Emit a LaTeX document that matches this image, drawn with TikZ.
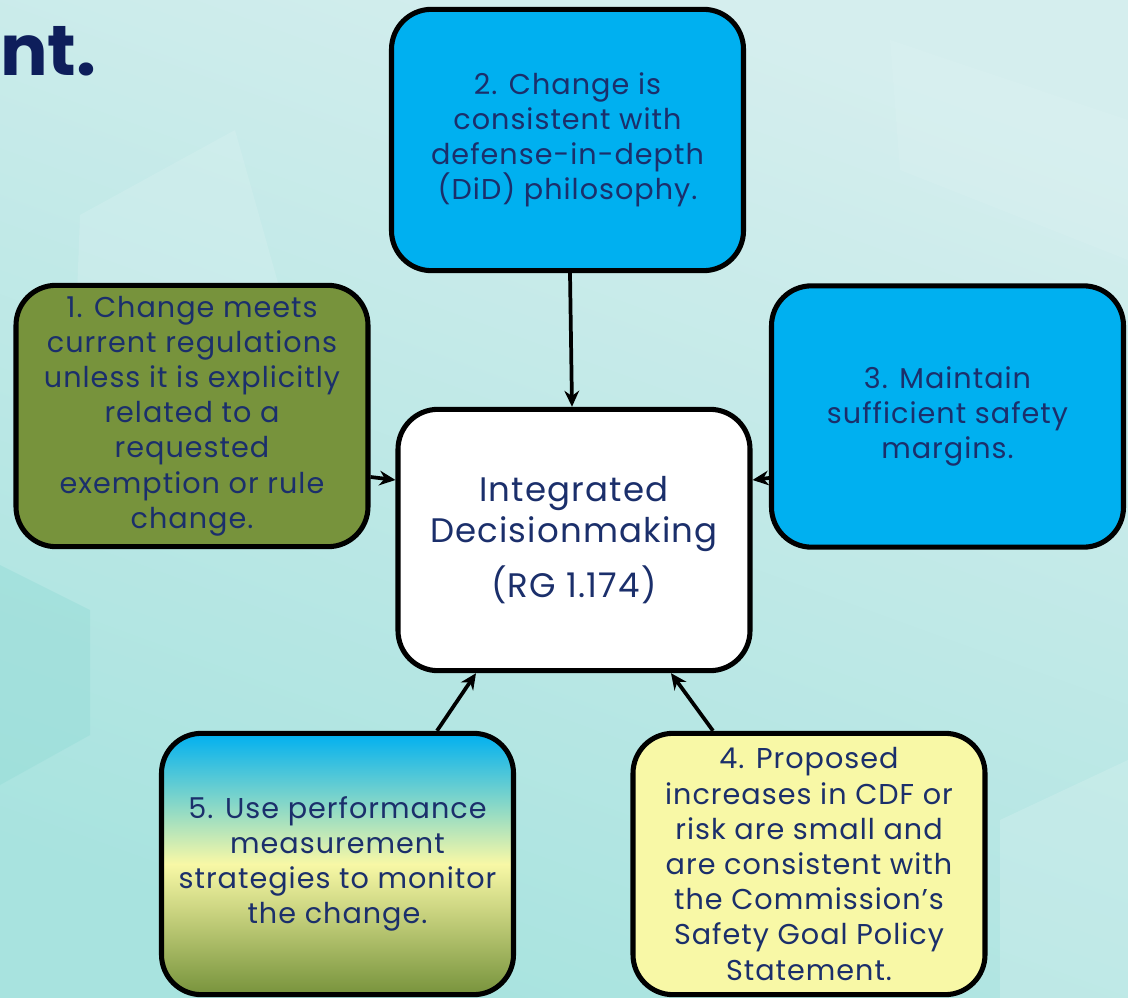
\documentclass[tikz,border=0pt]{standalone}
\usepackage{fontspec}
\setmainfont{Poppins}
\newfontfamily\widefont[LetterSpace=3.5]{Poppins}
\usetikzlibrary{arrows.meta,shapes.misc}
\definecolor{navy}{HTML}{1B2F6B}
\definecolor{titlenavy}{HTML}{0E1E5B}
\definecolor{skyblue}{HTML}{00B0F0}
\definecolor{olive}{HTML}{77933C}
\definecolor{paleyellow}{HTML}{F8F8A6}
\definecolor{bgA}{HTML}{A8E3DF}
\definecolor{bgB}{HTML}{D5EEEE}
\definecolor{hexA}{HTML}{97DDD8}
\definecolor{hexB}{HTML}{DDF2F2}
\tikzset{
  card/.style={draw=black, line width=3.8pt, rounded corners=30pt,
    minimum width=264pt, minimum height=196pt, inner sep=0pt,
    align=center, text=navy, font=\widefont\fontsize{21.5}{26.4}\selectfont},
  link/.style={draw=black, line width=2.8pt, -{Stealth[length=12pt,width=11pt]}}
}
\begin{document}
\begin{tikzpicture}[x=0.75pt,y=-0.75pt]
% background
\shade[top color=bgA, bottom color=bgB, shading angle=160] (0,0) rectangle (1128,998);
\useasboundingbox (0,0) rectangle (1128,998);
\fill[hexA, opacity=0.5] (0,565) -- (90,610) -- (90,735) -- (0,785) -- cycle;
\fill[hexB, opacity=0.3] (80,215) -- (235,130) -- (280,290) -- (150,420) -- (75,350) -- cycle;
\fill[hexB, opacity=0.3] (890,40) -- (1128,120) -- (1128,260) -- (900,170) -- cycle;
\fill[hexB, opacity=0.3] (1000,820) -- (1128,760) -- (1128,998) -- (1000,998) -- cycle;
% title fragment
\node[anchor=base west, inner sep=0pt, text=titlenavy,
  font=\fontsize{53}{53}\selectfont\bfseries] (title) at (0,76) {nt.};
% boxes
\node[card, fill=skyblue] (b2) at (567.5,140)
  {2. Change is\\consistent with\\defense-in-depth\\(DiD) philosophy.};
\node[card, fill=olive] (b1) at (192,416)
  {1. Change meets\\current regulations\\unless it is explicitly\\related to a\\requested\\exemption or rule\\change.};
\node[card, fill=skyblue] (b3) at (947.5,416.5)
  {3. Maintain\\sufficient safety\\margins.};
\node[card, fill=white, font=\widefont\fontsize{25.5}{30.75}\selectfont] (c) at (574,540)
  {Integrated\\Decisionmaking\\[10pt](RG 1.174)};
\node[card, top color=skyblue, bottom color=olive, middle color=paleyellow] (b5) at (337.5,864)
  {5. Use performance\\measurement\\strategies to monitor\\the change.};
\node[card, fill=paleyellow] (b4) at (809,864)
  {4. Proposed\\increases in CDF or\\risk are small and\\are consistent with\\the Commission’s\\Safety Goal Policy\\Statement.};
% connectors
\draw[link] (b2.south -| 570,0) -- (c.north -| 572,0);
\draw[link] (b1.east |- 0,477) -- (c.west |- 0,480);
\draw[link] (b3.west |- 0,478) -- (c.east |- 0,480);
\draw[link] (b5.north -| 437,0) -- (c.south -| 476,0);
\draw[link] (b4.north -| 713,0) -- (c.south -| 671,0);
\end{tikzpicture}
\end{document}
